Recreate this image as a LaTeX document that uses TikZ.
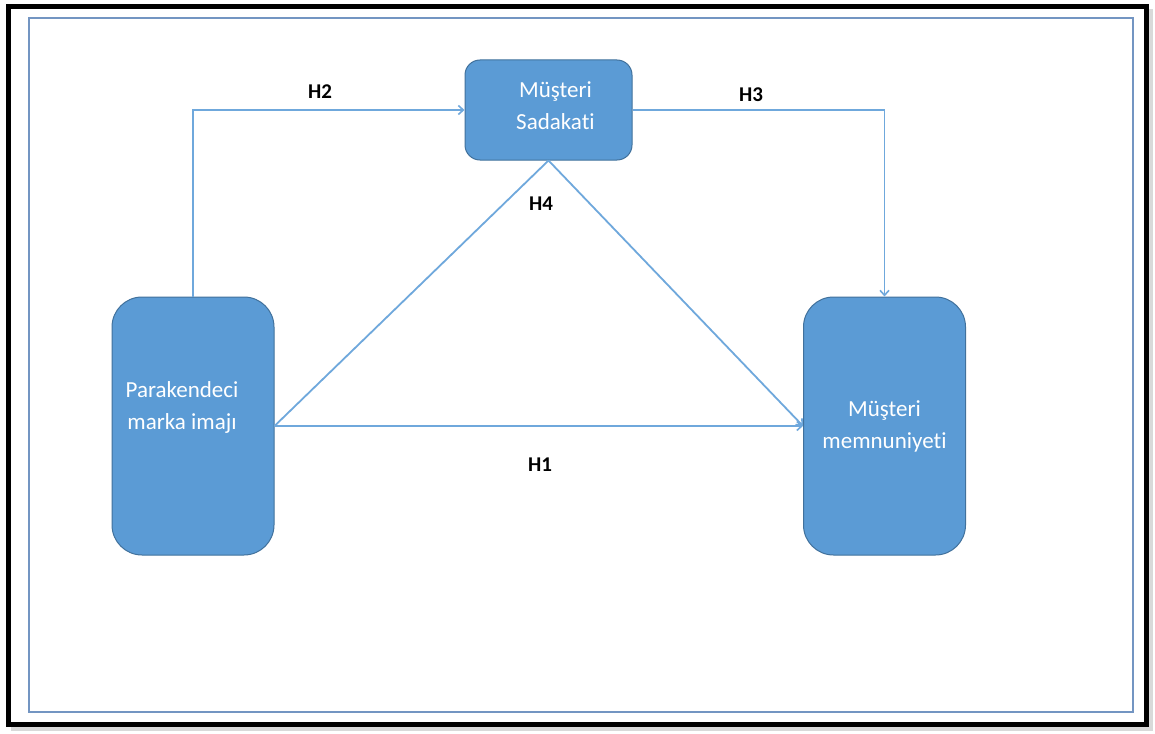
\documentclass[tikz,border=0pt]{standalone}
\usepackage{fontspec}
\setmainfont[Ligatures=NoCommon]{Carlito}
\usetikzlibrary{arrows.meta}
\definecolor{boxfill}{HTML}{5B9BD5}
\definecolor{boxline}{HTML}{41719C}
\definecolor{linkblue}{HTML}{6FA8DC}
\definecolor{frameblue}{HTML}{7395C2}
\tikzset{
  concept/.style={draw=boxline, line width=1pt, fill=boxfill, inner sep=0pt},
  conceptlabel/.style={text=white, align=center, font=\fontsize{23}{32}\selectfont},
  link/.style={draw=linkblue, line width=1.8pt},
  tip/.style={-{Straight Barb[length=5pt,width=9pt,line width=1.6pt]}},
  hyp/.style={font=\bfseries\fontsize{21}{25}\selectfont, text=black}
}
\begin{document}
\begin{tikzpicture}[x=1pt,y=-1pt]
\useasboundingbox (0,0) rectangle (1155,733);
% outer frame and inner panel
\fill[black!15] (11,9) rectangle (1153,731);
\fill[white] (7,5) rectangle (1148,726);
\draw[line width=5pt] (8.5,6.5) rectangle (1146.5,724.5);
\draw[frameblue, line width=2pt] (29,18) rectangle (1133,712);

% concepts
\node[concept, rounded corners=30pt, minimum width=162pt, minimum height=258pt,
      label={[conceptlabel, xshift=-11pt, yshift=19pt]center:Parakendeci\\marka imajı}]
      (L) at (193,426) {};
\node[concept, rounded corners=15pt, minimum width=167pt, minimum height=100pt,
      label={[conceptlabel, xshift=7pt, yshift=4pt]center:Müşteri\\Sadakati}]
      (T) at (548.5,110) {};
\node[concept, rounded corners=30pt, minimum width=162pt, minimum height=258pt,
      label={[conceptlabel, yshift=0pt]center:Müşteri\\memnuniyeti}]
      (R) at (884.5,426) {};

% hypotheses paths
\draw[link, tip] (L.north) |- (T.west);
\draw[link, tip] (T.east) -| (R.north);
\draw[link] (L.east) -- (T.south);
\draw[link, tip] (T.south) -- (R.west);
\draw[link, tip] (L.east) -- (R.west);

% hypothesis labels
\node[hyp] (h2) at (320,92) {H2};
\node[hyp] (h3) at (751,95) {H3};
\node[hyp] (h4) at (541,204) {H4};
\node[hyp] (h1) at (540,465) {H1};
\end{tikzpicture}
\end{document}
